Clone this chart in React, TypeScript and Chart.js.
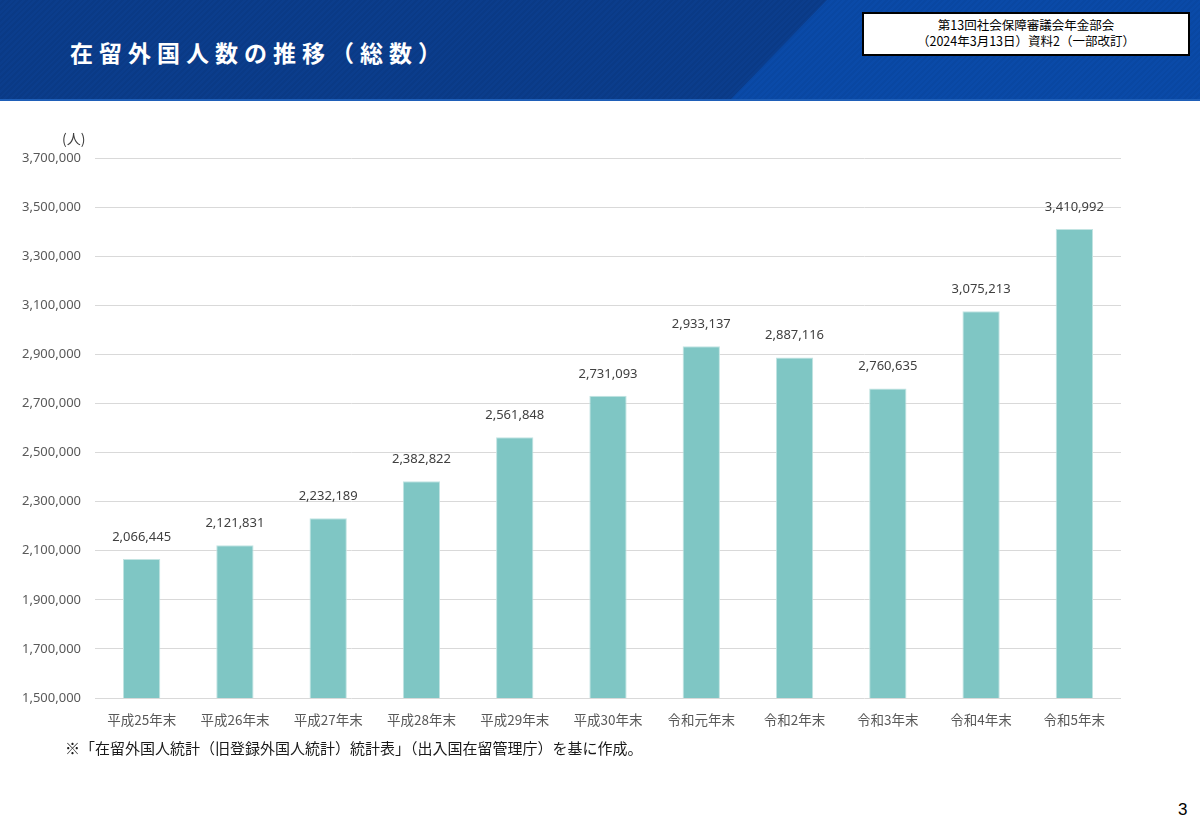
import React, { useEffect, useRef } from "react";
import { Chart, registerables } from "chart.js";

Chart.register(...registerables);

const categories = [
  "平成25年末",
  "平成26年末",
  "平成27年末",
  "平成28年末",
  "平成29年末",
  "平成30年末",
  "令和元年末",
  "令和2年末",
  "令和3年末",
  "令和4年末",
  "令和5年末",
];

const residents = [
  2066445, 2121831, 2232189, 2382822, 2561848, 2731093, 2933137, 2887116,
  2760635, 3075213, 3410992,
];

const yMin = 1500000;
const yMax = 3700000;
const yStep = 200000;

const FONT = "'Noto Sans', 'Noto Sans CJK JP', sans-serif";
const CJK = "'Noto Sans CJK JP', 'Noto Sans', sans-serif";

const valueLabels = {
  id: "valueLabels",
  afterDatasetsDraw(chart: any) {
    const ctx = chart.ctx;
    const meta = chart.getDatasetMeta(0);
    const data = chart.data.datasets[0].data as number[];
    ctx.save();
    ctx.font = `13px ${FONT}`;
    ctx.fillStyle = "#404040";
    ctx.textAlign = "center";
    ctx.textBaseline = "middle";
    meta.data.forEach((el: any, i: number) => {
      ctx.fillText(data[i].toLocaleString("en-US"), el.x, el.y - 22);
    });
    ctx.restore();
  },
};

function BarChart() {
  const ref = useRef<HTMLCanvasElement | null>(null);
  useEffect(() => {
    if (!ref.current) return;
    const chart = new Chart(ref.current, {
      type: "bar",
      data: {
        labels: categories,
        datasets: [
          {
            data: residents,
            backgroundColor: "#7FC6C4",
            borderColor: "#c2e4e2",
            borderWidth: 1,
            barPercentage: 0.4,
            categoryPercentage: 1,
          },
        ],
      },
      options: {
        responsive: false,
        animation: false,
        events: [],
        layout: { padding: { left: 0, right: 79, top: 58, bottom: 22 } },
        plugins: {
          legend: { display: false },
          tooltip: { enabled: false },
          title: { display: false },
        },
        scales: {
          x: {
            grid: { display: false, drawTicks: false },
            border: { display: false },
            ticks: {
              padding: 14,
              color: "#595959",
              font: { family: CJK, size: 13.5 },
              maxRotation: 0,
              autoSkip: false,
            },
            afterFit(scale: any) {
              scale.height = 40;
            },
          },
          y: {
            min: yMin,
            max: yMax,
            grid: { color: "#d9d9d9", lineWidth: 1, drawTicks: false },
            border: { display: false },
            ticks: {
              stepSize: yStep,
              padding: 14,
              color: "#595959",
              font: { family: FONT, size: 13 },
              callback: (v: any) => Number(v).toLocaleString("en-US"),
            },
            afterFit(scale: any) {
              scale.width = 95;
            },
          },
        },
      },
      plugins: [valueLabels],
    });
    return () => chart.destroy();
  }, []);
  return (
    <canvas
      ref={ref}
      width={1200}
      height={660}
      style={{ position: "absolute", left: 0, top: 100, width: 1200, height: 660 }}
    />
  );
}

export default function App() {
  return (
    <div
      style={{
        position: "absolute",
        left: 0,
        top: 0,
        width: 1200,
        height: 832,
        background: "#ffffff",
        overflow: "hidden",
        fontFamily: FONT,
      }}
    >
      {/* header band */}
      <div
        style={{
          position: "absolute",
          left: 0,
          top: 0,
          width: 1200,
          height: 100,
          background:
            "repeating-linear-gradient(135deg, #0b3d8c 0px, #0b3d8c 2px, #0a3a86 2px, #0a3a86 4px)",
        }}
      />
      <div
        style={{
          position: "absolute",
          left: 0,
          top: 0,
          width: 1200,
          height: 100,
          background:
            "repeating-linear-gradient(135deg, #0a4aa8 0px, #0a4aa8 2px, #0947a2 2px, #0947a2 4px)",
          clipPath: "polygon(827px 0, 1200px 0, 1200px 100px, 730px 100px)",
        }}
      />
      <div
        style={{
          position: "absolute",
          left: 0,
          top: 99,
          width: 1200,
          height: 2,
          background: "#1f5fb8",
        }}
      />
      <div
        style={{
          position: "absolute",
          left: 70,
          top: 36,
          color: "#ffffff",
          fontFamily: CJK,
          fontWeight: 700,
          fontSize: 23,
          letterSpacing: 6,
          lineHeight: "32px",
          whiteSpace: "nowrap",
        }}
      >
        在留外国人数の推移（総数）
      </div>
      <div
        style={{
          position: "absolute",
          left: 862,
          top: 12,
          width: 324,
          height: 37,
          background: "#ffffff",
          border: "2px solid #000000",
          color: "#000000",
          fontFamily: CJK,
          fontSize: 12.5,
          lineHeight: "16px",
          textAlign: "center",
          paddingTop: 3,
          boxSizing: "content-box",
        }}
      >
        <div>第13回社会保障審議会年金部会</div>
        <div>（2024年3月13日）資料2（一部改訂）</div>
      </div>

      <BarChart />

      <div
        style={{
          position: "absolute",
          left: 62,
          top: 128,
          fontFamily: CJK,
          fontSize: 14,
          color: "#404040",
          lineHeight: "20px",
          whiteSpace: "nowrap",
        }}
      >
        (人)
      </div>

      <div
        style={{
          position: "absolute",
          left: 65,
          top: 737,
          fontFamily: CJK,
          fontSize: 15,
          color: "#1a1a1a",
          lineHeight: "22px",
          whiteSpace: "nowrap",
        }}
      >
        ※「在留外国人統計（旧登録外国人統計）統計表」（出入国在留管理庁）を基に作成。
      </div>

      <div
        style={{
          position: "absolute",
          left: 1178,
          top: 799,
          fontFamily: "'Liberation Sans', Arial, sans-serif",
          fontSize: 17,
          color: "#000000",
          lineHeight: "22px",
        }}
      >
        3
      </div>
    </div>
  );
}
